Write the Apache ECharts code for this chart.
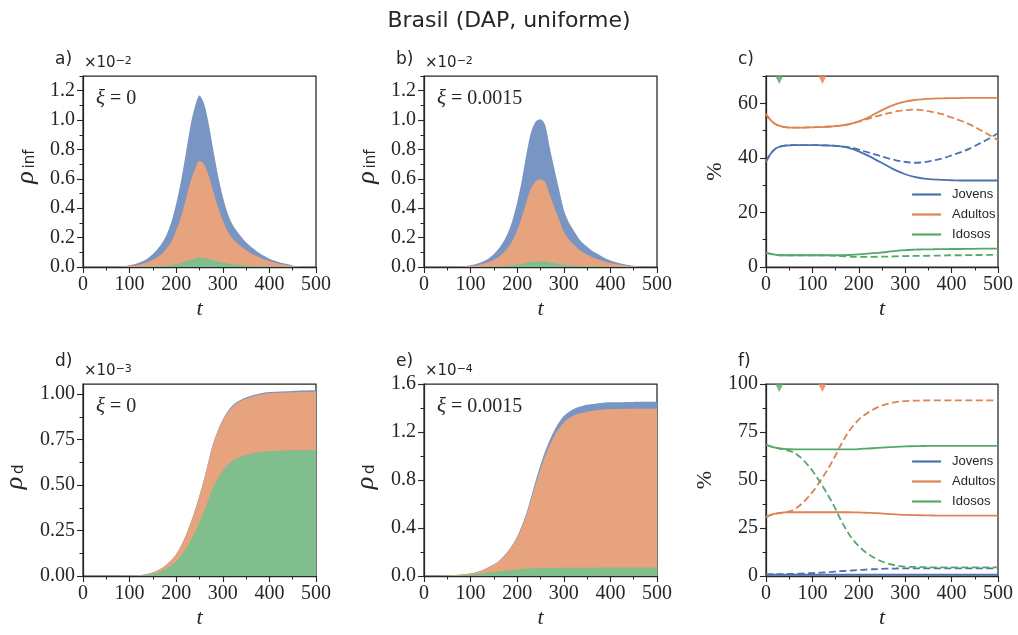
<!DOCTYPE html>
<html>
<head>
<meta charset="utf-8">
<script src="https://cdn.jsdelivr.net/npm/echarts@6/dist/echarts.min.js"></script>
<style>
  html, body { margin: 0; padding: 0; background: #ffffff; }
  #chart { width: 1018px; height: 635px; }
</style>
</head>
<body>
<div id="chart"></div>
<script>
// ---------------- data ----------------
const GROUPS = ['Jovens', 'Adultos', 'Idosos'];

// time samples for the infected density panels (a, b): 0, 60..480 every 10, 500
const T_INF = [0, 60, 70, 80, 90, 100, 110, 120, 130, 140, 150, 160, 170, 180, 190, 200, 210, 220, 230, 240, 250,
               260, 270, 280, 290, 300, 310, 320, 330, 340, 350, 360, 370, 380, 390, 400, 410, 420, 430, 440, 450,
               460, 470, 480, 500];
// rho_inf (x 1e-2), xi = 0
const INF_A_JOVENS  = [0, 0, 0.00045, 0.0013, 0.0031, 0.0054, 0.0085, 0.013, 0.0192, 0.0277, 0.0393, 0.0543, 0.0726, 0.0981, 0.1333, 0.1823, 0.2413, 0.3101, 0.379, 0.4251, 0.445,
                       0.4129, 0.3521, 0.2797, 0.2151, 0.1632, 0.124, 0.0974, 0.0801, 0.0664, 0.0542, 0.0446, 0.0365, 0.0293, 0.0233, 0.0181, 0.0139, 0.0108, 0.0079, 0.0057, 0.0035,
                       0.0016, 0.0003, 0, 0];
const INF_A_ADULTOS = [0, 0, 0.00051, 0.0016, 0.0036, 0.0061, 0.0097, 0.0148, 0.022, 0.0316, 0.0449, 0.0625, 0.0853, 0.117, 0.1627, 0.2279, 0.3111, 0.4127, 0.523, 0.6082, 0.6605,
                       0.636, 0.5626, 0.4637, 0.3674, 0.287, 0.2227, 0.1789, 0.1492, 0.1254, 0.1029, 0.0854, 0.07, 0.0567, 0.0449, 0.0351, 0.0272, 0.021, 0.0154, 0.0111, 0.0068,
                       0.0031, 0.0006, 0, 0];
const INF_A_IDOSOS  = [0, 0, 0.00004, 0.0001, 0.0003, 0.0005, 0.0008, 0.0012, 0.0018, 0.0027, 0.0038, 0.0052, 0.0071, 0.0099, 0.014, 0.0198, 0.0276, 0.0372, 0.048, 0.0567, 0.0625,
                       0.0611, 0.0553, 0.0466, 0.0375, 0.0298, 0.0233, 0.0187, 0.0157, 0.0132, 0.0109, 0.009, 0.0075, 0.006, 0.0048, 0.0038, 0.0029, 0.0022, 0.0017, 0.0012, 0.0007,
                       0.0003, 0.0001, 0, 0];
// rho_inf (x 1e-2), xi = 0.0015
const INF_B_JOVENS  = [0, 0, 0.00045, 0.0013, 0.0031, 0.0054, 0.0085, 0.013, 0.0192, 0.0277, 0.0398, 0.0552, 0.075, 0.1016, 0.1389, 0.1892, 0.2508, 0.3234, 0.3818, 0.4059, 0.407,
                       0.386, 0.32, 0.26, 0.2037, 0.1502, 0.1187, 0.0974, 0.0783, 0.0634, 0.0534, 0.0441, 0.0366, 0.0299, 0.0234, 0.0184, 0.0141, 0.0109, 0.0081, 0.0057, 0.0035,
                       0.0018, 0.0005, 0, 0];
const INF_B_ADULTOS = [0, 0, 0.00051, 0.0016, 0.0036, 0.0061, 0.0097, 0.0148, 0.022, 0.0317, 0.0456, 0.0638, 0.0884, 0.1216, 0.1691, 0.2345, 0.3174, 0.4181, 0.5042, 0.547, 0.56,
                       0.5423, 0.4588, 0.3791, 0.3006, 0.2242, 0.1788, 0.1473, 0.1183, 0.0948, 0.0789, 0.0642, 0.0525, 0.0419, 0.0321, 0.0247, 0.0184, 0.014, 0.0101, 0.0067, 0.0042,
                       0.002, 0.0005, 0, 0];
const INF_B_IDOSOS  = [0, 0, 0.00004, 0.0001, 0.0003, 0.0005, 0.0008, 0.0012, 0.0018, 0.0026, 0.0036, 0.005, 0.0066, 0.0088, 0.012, 0.0163, 0.0218, 0.0285, 0.034, 0.0371, 0.038,
                       0.0367, 0.0312, 0.0259, 0.0207, 0.0156, 0.0125, 0.0103, 0.0084, 0.0068, 0.0057, 0.0047, 0.0039, 0.0032, 0.0025, 0.0019, 0.0015, 0.0011, 0.0008, 0.0006, 0.0003,
                       0.0002, 0.00004, 0, 0];

// time samples for the death density panels (d, e)
const T_D = [0, 50, 100, 120, 140, 160, 180, 200, 220, 240, 260, 280, 300, 320, 340, 360, 380, 400, 450, 500];
// rho_d (x 1e-3), xi = 0
const D_A_JOVENS  = [0, 0, 0.00001, 0.00003, 0.0001, 0.0002, 0.0005, 0.0008, 0.0015, 0.0025, 0.0037, 0.0051, 0.0060, 0.0065, 0.0068, 0.0069, 0.0070, 0.0071, 0.0071, 0.0071];
const D_A_ADULTOS = [0, 0, 0.00033, 0.0013, 0.0040, 0.0099, 0.0215, 0.0396, 0.0722, 0.1177, 0.1744, 0.2381, 0.2752, 0.2964, 0.3061, 0.3119, 0.3149, 0.3175, 0.3193, 0.3203];
const D_A_IDOSOS  = [0, 0, 0.00066, 0.0026, 0.0079, 0.0198, 0.0429, 0.0792, 0.1463, 0.2398, 0.3569, 0.4918, 0.5788, 0.6321, 0.6571, 0.6712, 0.6811, 0.6864, 0.6906, 0.6926];
// rho_d (x 1e-4), xi = 0.0015
const D_B_JOVENS  = [0, 0.00003, 0.0003, 0.0007, 0.0016, 0.0031, 0.0058, 0.0102, 0.0180, 0.0288, 0.0395, 0.0475, 0.0533, 0.0556, 0.0567, 0.0573, 0.0577, 0.0579, 0.0580, 0.0581];
const D_B_ADULTOS = [0, 0.001, 0.009, 0.021, 0.045, 0.083, 0.154, 0.266, 0.450, 0.706, 0.934, 1.103, 1.212, 1.2665, 1.291, 1.3057, 1.3154, 1.3202, 1.323, 1.324];
const D_B_IDOSOS  = [0, 0.002, 0.011, 0.019, 0.030, 0.037, 0.046, 0.054, 0.060, 0.064, 0.066, 0.067, 0.068, 0.0685, 0.069, 0.0693, 0.0696, 0.0698, 0.070, 0.070];

// share of infected per group (%), panel c
const T_PCT_C = [0, 10, 20, 30, 40, 60, 80, 100, 120, 140, 160, 180, 200, 220, 240, 260, 280, 300, 320, 340, 360, 380, 400, 420, 440, 460, 480, 500];
const C_JOVENS_0  = [38.6, 41.5, 43.3, 44.1, 44.5, 44.7, 44.7, 44.7, 44.6, 44.5, 44.2, 43.6, 42.4, 40.8, 39.0, 37.2, 35.4, 34.0, 33.0, 32.4, 32.1, 31.9, 31.8, 31.7, 31.7, 31.7, 31.7, 31.7];
const C_ADULTOS_0 = [56.1, 53.8, 52.4, 51.7, 51.3, 51.1, 51.1, 51.2, 51.3, 51.5, 51.8, 52.4, 53.4, 54.8, 56.6, 58.3, 59.7, 60.6, 61.2, 61.5, 61.7, 61.8, 61.9, 61.9, 62.0, 62.0, 62.0, 62.0];
const C_IDOSOS_0  = [5.3, 4.8, 4.5, 4.3, 4.3, 4.3, 4.3, 4.3, 4.3, 4.3, 4.3, 4.4, 4.6, 4.9, 5.2, 5.5, 5.9, 6.2, 6.35, 6.45, 6.5, 6.55, 6.6, 6.6, 6.65, 6.7, 6.7, 6.7];
const C_JOVENS_X  = [38.6, 41.5, 43.3, 44.1, 44.5, 44.7, 44.7, 44.7, 44.6, 44.5, 44.3, 43.8, 43.0, 42.0, 41.0, 40.0, 39.1, 38.5, 38.2, 38.4, 39.0, 39.8, 40.9, 42.1, 43.5, 45.2, 47.0, 49.0];
const C_ADULTOS_X = [56.1, 53.8, 52.4, 51.7, 51.3, 51.1, 51.1, 51.2, 51.3, 51.5, 51.8, 52.4, 53.3, 54.3, 55.3, 56.2, 57.0, 57.5, 57.7, 57.4, 56.8, 56.0, 54.8, 53.6, 52.2, 50.4, 48.5, 46.5];
const C_IDOSOS_X  = [5.3, 4.8, 4.5, 4.3, 4.3, 4.3, 4.3, 4.3, 4.3, 4.2, 4.0, 3.8, 3.7, 3.7, 3.75, 3.8, 3.9, 4.0, 4.05, 4.1, 4.15, 4.2, 4.3, 4.3, 4.35, 4.4, 4.45, 4.5];

// share of deaths per group (%), panel f
const T_PCT_F = [0, 10, 20, 30, 40, 50, 60, 70, 80, 90, 100, 110, 120, 130, 140, 150, 160, 170, 180, 190, 200, 210, 220, 240, 260, 280, 300, 320, 340, 360, 380, 400, 420, 440, 460, 480, 500];
const F_JOVENS_0  = [0.8, 0.78, 0.76, 0.75, 0.74, 0.73, 0.72, 0.72, 0.72, 0.71, 0.71, 0.71, 0.71, 0.71, 0.71, 0.71, 0.71, 0.71, 0.71, 0.71, 0.71, 0.71, 0.71, 0.71, 0.71, 0.71, 0.71, 0.71, 0.71, 0.71, 0.71, 0.71, 0.71, 0.71, 0.71, 0.71, 0.71];
const F_ADULTOS_0 = [30.8, 31.8, 32.5, 32.9, 33.1, 33.2, 33.2, 33.2, 33.2, 33.2, 33.2, 33.2, 33.2, 33.2, 33.2, 33.2, 33.2, 33.2, 33.2, 33.1, 33.1, 33.0, 32.9, 32.7, 32.4, 32.1, 31.8, 31.7, 31.6, 31.5, 31.4, 31.4, 31.4, 31.4, 31.4, 31.4, 31.4];
const F_IDOSOS_0  = [68.5, 67.5, 66.8, 66.4, 66.2, 66.1, 66.0, 66.0, 66.0, 66.0, 66.0, 66.0, 66.0, 66.0, 66.0, 66.0, 66.0, 66.0, 66.0, 66.0, 66.1, 66.3, 66.4, 66.7, 67.0, 67.3, 67.5, 67.6, 67.7, 67.8, 67.8, 67.8, 67.8, 67.8, 67.8, 67.8, 67.8];
const F_JOVENS_X  = [0.8, 0.85, 0.9, 0.95, 1.0, 1.1, 1.15, 1.2, 1.3, 1.4, 1.5, 1.65, 1.8, 1.95, 2.1, 2.3, 2.5, 2.65, 2.8, 2.95, 3.1, 3.25, 3.4, 3.6, 3.8, 3.9, 4.0, 4.0, 4.0, 4.0, 4.0, 4.0, 4.0, 4.0, 4.0, 4.0, 4.0];
const F_ADULTOS_X = [30.7, 31.65, 32.3, 32.75, 33.1, 33.7, 34.55, 36.2, 38.2, 40.8, 43.7, 47.05, 50.6, 54.45, 58.5, 62.9, 67.7, 72.05, 75.8, 78.85, 81.4, 83.45, 85.1, 87.8, 89.5, 90.6, 91.1, 91.3, 91.4, 91.5, 91.5, 91.5, 91.5, 91.5, 91.5, 91.5, 91.5];
const F_IDOSOS_X  = [68.5, 67.5, 66.8, 66.3, 65.9, 65.2, 64.3, 62.6, 60.5, 57.8, 54.8, 51.3, 47.6, 43.6, 39.4, 34.8, 29.8, 25.3, 21.4, 18.2, 15.5, 13.3, 11.5, 8.6, 6.7, 5.5, 4.9, 4.7, 4.6, 4.5, 4.5, 4.5, 4.5, 4.5, 4.5, 4.5, 4.5];

// reference times marked on the percentage panels (Idosos, Adultos)
const MARK_T = [28.6, 121.6];

// axis ticks
const X_TICKS = [0, 100, 200, 300, 400, 500];
const Y_TICKS_INF = [0, 0.2, 0.4, 0.6, 0.8, 1.0, 1.2];
const Y_MINOR_INF = [0.1, 0.3, 0.5, 0.7, 0.9, 1.1, 1.3];
const Y_TICKS_PCT_C = [0, 20, 40, 60];
const Y_MINOR_PCT_C = [10, 30, 50, 70];
const Y_TICKS_DA = [0, 0.25, 0.5, 0.75, 1.0];
const Y_MINOR_DA = [0.125, 0.375, 0.625, 0.875];
const Y_TICKS_DB = [0, 0.4, 0.8, 1.2, 1.6];
const Y_MINOR_DB = [0.2, 0.6, 1.0, 1.4];
const Y_TICKS_PCT_F = [0, 25, 50, 75, 100];
const Y_MINOR_PCT_F = [12.5, 37.5, 62.5, 87.5];

// ---------------- style ----------------
const INK = '#262626';
const SERIF = 'Liberation Serif';
const SANS = 'DejaVu Sans';
const LINE_COLORS = { Jovens: '#4C72B0', Adultos: '#DD8452', Idosos: '#55A868' };
// seaborn palette at 75 % opacity over white
const FILL_COLORS = { Jovens: '#7995c4', Adultos: '#e6a37d', Idosos: '#80be8e' };
const MARK_COLORS = ['#55A868', '#F27C4E'];

const GRIDS = [
  { left: 83,  top: 76,  width: 233, height: 191 },
  { left: 424, top: 76,  width: 233, height: 191 },
  { left: 766, top: 76,  width: 232, height: 191 },
  { left: 83,  top: 384, width: 233, height: 192 },
  { left: 424, top: 384, width: 233, height: 192 },
  { left: 766, top: 384, width: 232, height: 192 }
];

const pairs = (T, V) => T.map((t, i) => [t, V[i]]);

function makeXAxis(gi) {
  return {
    type: 'value', gridIndex: gi, min: 0, max: X_TICKS[X_TICKS.length - 1], interval: X_TICKS[1] - X_TICKS[0],
    axisLine: { show: true, onZero: false, lineStyle: { color: INK, width: 1.25 } },
    axisTick: { show: true, length: 6, lineStyle: { color: INK, width: 1.1 } },
    minorTick: { show: true, splitNumber: 2, length: 3.5, lineStyle: { color: INK, width: 1 } },
    splitLine: { show: false }, minorSplitLine: { show: false },
    axisLabel: { color: INK, fontFamily: SERIF, fontSize: 20, margin: 8 },
    name: 't', nameLocation: 'middle', nameGap: 31, nameMoveOverlap: false,
    nameTextStyle: { color: INK, fontFamily: SERIF, fontStyle: 'italic', fontSize: 22 }
  };
}

function makeYAxes(gi, max, major, minor, digits, name, gap) {
  return [
    {
      type: 'value', gridIndex: gi, position: 'left', min: 0, max: max,
      axisLine: { show: true, onZero: false, lineStyle: { color: INK, width: 1.25 } },
      axisTick: { show: true, length: 6, customValues: major, lineStyle: { color: INK, width: 1.1 } },
      axisLabel: { customValues: major, color: INK, fontFamily: SERIF, fontSize: 20, margin: 8,
                   formatter: v => v.toFixed(digits) },
      splitLine: { show: false },
      name: name, nameLocation: 'middle', nameGap: gap, nameMoveOverlap: false,
      nameTextStyle: { color: INK, fontFamily: SERIF, fontSize: 22 }
    },
    {
      type: 'value', gridIndex: gi, position: 'left', min: 0, max: max,
      axisLine: { show: false },
      axisTick: { show: true, length: 3.5, customValues: minor, lineStyle: { color: INK, width: 1 } },
      axisLabel: { show: false },
      splitLine: { show: false }
    }
  ];
}

const xAxes = GRIDS.map((g, i) => makeXAxis(i));
const yAxes = [].concat(
  makeYAxes(0, 1.3, Y_TICKS_INF, Y_MINOR_INF, 1, '', 0),
  makeYAxes(1, 1.3, Y_TICKS_INF, Y_MINOR_INF, 1, '', 0),
  makeYAxes(2, 70, Y_TICKS_PCT_C, Y_MINOR_PCT_C, 0, '%', 40),
  makeYAxes(3, 1.055, Y_TICKS_DA, Y_MINOR_DA, 2, '', 0),
  makeYAxes(4, 1.6, Y_TICKS_DB, Y_MINOR_DB, 1, '', 0),
  makeYAxes(5, 100, Y_TICKS_PCT_F, Y_MINOR_PCT_F, 0, '%', 50)
);

// stacked areas: each band is filled from its cumulative top down to zero,
// drawn from the tallest (all groups) to the lowest (Idosos only)
function stackedAreas(gi, T, byGroup, tag) {
  const order = ['Idosos', 'Adultos', 'Jovens'];
  const cum = [];
  let run = T.map(() => 0);
  order.forEach(g => {
    run = run.map((v, i) => v + byGroup[g][i]);
    cum.push({ g: g, vals: run.slice() });
  });
  return cum.reverse().map(c => ({
    type: 'line', name: tag + ' ' + c.g, xAxisIndex: gi, yAxisIndex: 2 * gi,
    data: pairs(T, c.vals),
    smooth: 0.3, symbol: 'none', silent: true,
    lineStyle: { width: 0 },
    areaStyle: { color: FILL_COLORS[c.g], opacity: 1, origin: 'start' },
    emphasis: { disabled: true }
  }));
}

function shareLines(gi, T, byGroup, dashed, tag) {
  return GROUPS.map(g => ({
    type: 'line', name: dashed ? tag + ' ' + g : g, xAxisIndex: gi, yAxisIndex: 2 * gi,
    data: pairs(T, byGroup[g]), smooth: 0.35, symbol: 'none', silent: true, z: 3,
    itemStyle: { color: LINE_COLORS[g] },
    lineStyle: { color: LINE_COLORS[g], width: 1.8, type: dashed ? [7, 3.5] : 'solid' },
    emphasis: { disabled: true }
  }));
}

function marks(gi, top) {
  return MARK_T.map((t, k) => ({
    type: 'scatter', name: 'marca ' + gi + '-' + k, xAxisIndex: gi, yAxisIndex: 2 * gi,
    data: [[t, top]], symbol: 'triangle', symbolRotate: 180, symbolSize: [8, 8], symbolOffset: [0, 4],
    itemStyle: { color: MARK_COLORS[k] }, silent: true, z: 5, clip: false
  }));
}

const series = [].concat(
  shareLines(2, T_PCT_C, { Jovens: C_JOVENS_0, Adultos: C_ADULTOS_0, Idosos: C_IDOSOS_0 }, false, ''),
  shareLines(2, T_PCT_C, { Jovens: C_JOVENS_X, Adultos: C_ADULTOS_X, Idosos: C_IDOSOS_X }, true, 'ξ=0.0015 inf'),
  shareLines(5, T_PCT_F, { Jovens: F_JOVENS_0, Adultos: F_ADULTOS_0, Idosos: F_IDOSOS_0 }, false, ''),
  shareLines(5, T_PCT_F, { Jovens: F_JOVENS_X, Adultos: F_ADULTOS_X, Idosos: F_IDOSOS_X }, true, 'ξ=0.0015 d'),
  stackedAreas(0, T_INF, { Jovens: INF_A_JOVENS, Adultos: INF_A_ADULTOS, Idosos: INF_A_IDOSOS }, 'ρinf ξ=0'),
  stackedAreas(1, T_INF, { Jovens: INF_B_JOVENS, Adultos: INF_B_ADULTOS, Idosos: INF_B_IDOSOS }, 'ρinf ξ=0.0015'),
  stackedAreas(3, T_D, { Jovens: D_A_JOVENS, Adultos: D_A_ADULTOS, Idosos: D_A_IDOSOS }, 'ρd ξ=0'),
  stackedAreas(4, T_D, { Jovens: D_B_JOVENS, Adultos: D_B_ADULTOS, Idosos: D_B_IDOSOS }, 'ρd ξ=0.0015'),
  marks(2, 70),
  marks(5, 100)
);

// ---------------- annotations ----------------
const PANEL_LABELS = ['a)', 'b)', 'c)', 'd)', 'e)', 'f)'];
const XI_VALUES = ['0', '0.0015', null, '0', '0.0015', null];
const OFFSET_EXP = ['−2', '−2', null, '−3', '−4', null];
// rotated density labels: [subscript, distance of rho from the axis, vertical shift of rho]
const RHO_LABELS = [['inf', 57, 6], ['inf', 57, 6], null, ['d', 68, 3], ['d', 58, 3], null];

const graphics = [];
GRIDS.forEach((g, i) => {
  const cy = g.top + g.height / 2;
  graphics.push({
    type: 'text', left: g.left - 28, top: i < 3 ? 51 : 353, z: 100,
    style: { text: PANEL_LABELS[i], fill: INK, fontFamily: SANS, fontSize: 17 }
  });
  if (XI_VALUES[i] !== null) {
    graphics.push({
      type: 'text', left: g.left + 13, top: g.top + 12, z: 100,
      style: {
        text: '{i|ξ} = ' + XI_VALUES[i], fill: INK, fontFamily: SERIF, fontSize: 20,
        rich: { i: { fontFamily: SERIF, fontStyle: 'italic', fontSize: 21, fill: INK } }
      }
    });
  }
  if (OFFSET_EXP[i] !== null) {
    graphics.push({
      type: 'text', left: g.left + 1, top: g.top - 20, z: 100,
      style: {
        text: '×10{e|' + OFFSET_EXP[i] + '}', fill: INK, fontFamily: SANS, fontSize: 15,
        rich: { e: { fontFamily: SANS, fontSize: 11, verticalAlign: 'top', lineHeight: 11, fill: INK } }
      }
    });
  }
  const rl = RHO_LABELS[i];
  if (rl !== null) {
    const rx = g.left - rl[1], ry = cy + rl[2];
    graphics.push({
      type: 'text', x: rx, y: ry, rotation: Math.PI / 2, z: 100,
      style: { text: 'ρ', fill: INK, fontFamily: SERIF, fontStyle: 'italic', fontSize: 26, align: 'center', verticalAlign: 'middle' }
    });
    graphics.push({
      type: 'text', x: rx + 4, y: ry - 9, rotation: Math.PI / 2, z: 100,
      style: { text: rl[0], fill: INK, fontFamily: SANS, fontSize: 15, align: 'left', verticalAlign: 'middle' }
    });
  }
});

const legendBase = {
  data: GROUPS, orient: 'vertical', left: 911, padding: 0,
  itemWidth: 29, itemHeight: 14, itemGap: 7, selectedMode: false,
  itemStyle: { opacity: 0 },
  lineStyle: { width: 2.2 },
  textStyle: { color: INK, fontFamily: 'Liberation Sans', fontSize: 13, padding: [0, 0, 0, 6] }
};

const option = {
  animation: false,
  backgroundColor: '#ffffff',
  textStyle: { fontFamily: SERIF },
  title: {
    text: 'Brasil (DAP, uniforme)', left: 'center', top: 5,
    textStyle: { color: INK, fontFamily: SANS, fontSize: 22, fontWeight: 'normal' }
  },
  legend: [
    Object.assign({}, legendBase, { top: 188 }),
    Object.assign({}, legendBase, { top: 455 })
  ],
  grid: GRIDS.map(g => Object.assign({ show: true, borderColor: INK, borderWidth: 1.25, backgroundColor: 'transparent', containLabel: false, outerBoundsMode: 'none' }, g)),
  xAxis: xAxes,
  yAxis: yAxes,
  series: series,
  graphic: graphics
};

const chart = echarts.init(document.getElementById('chart'), null, { renderer: 'canvas' });
chart.setOption(option);
</script>
</body>
</html>
